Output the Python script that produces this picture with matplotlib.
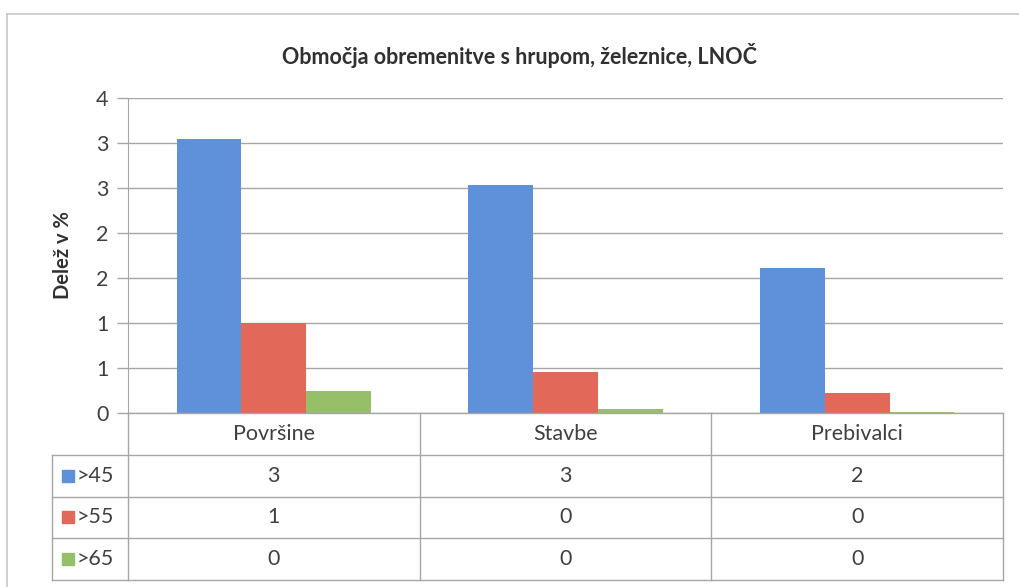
import numpy as np
import matplotlib
matplotlib.use('Agg')
import matplotlib.pyplot as plt
from matplotlib.lines import Line2D
from matplotlib.ticker import FuncFormatter

plt.rcParams['font.family'] = ['Lato', 'DejaVu Sans']

title = 'Območja obremenitve s hrupom, železnice, LNOČ'
ylabel = 'Delež v %'
categories = ['Površine', 'Stavbe', 'Prebivalci']
series = ['>45', '>55', '>65']
gt45 = [3.05, 2.53, 1.61]
gt55 = [1.00, 0.46, 0.22]
gt65 = [0.24, 0.05, 0.01]
colors = ['#5f90da', '#e2685a', '#97bf69']

W, H = 1020, 587
text_col = '#404040'
line_col = '#a6a6a6'


def excel_round(v):
    # Excel rounds halves up
    return '%d' % int(np.floor(v + 0.5))


def fx(px):
    return px / W


def fy(py):
    return 1 - py / H


fig = plt.figure(figsize=(W / 100, H / 100), dpi=100)

# outer chart border (left and top visible in the scan)
fig.add_artist(Line2D([fx(7), fx(7)], [fy(14), 0], color='#c8c8c8', lw=1.2))
fig.add_artist(Line2D([fx(7), 1], [fy(14), fy(14)], color='#c8c8c8', lw=1.2))

left, right, top, zero = 128, 1003, 98, 413
ax = fig.add_axes([fx(left), fy(zero), fx(right - left), (zero - top) / H])

values = [gt45, gt55, gt65]
x = np.arange(len(categories))
w = 1 / 4.5
for j in range(len(series)):
    ax.bar(x + (j - 1) * w, values[j], width=w, color=colors[j], zorder=3)

ax.set_xlim(-0.5, 2.5)
ax.set_ylim(0, 3.5)
ax.set_yticks(np.arange(0, 3.51, 0.5))
ax.yaxis.set_major_formatter(FuncFormatter(lambda v, p: excel_round(v)))
ax.set_xticks([])
ax.grid(axis='y', color=line_col, lw=1.0, zorder=0)
for s in ['top', 'right', 'bottom']:
    ax.spines[s].set_visible(False)
ax.spines['left'].set_color(line_col)
ax.tick_params(axis='y', colors=line_col, labelcolor=text_col, labelsize=15.5,
               length=8, width=1, pad=6)

fig.text(fx(520), fy(55), title, ha='center', va='center',
         fontsize=15.5, fontweight='bold', color='#303030')
fig.text(fx(63), fy(255), ylabel, ha='center', va='center', rotation=90,
         fontsize=14.5, fontweight='bold', color='#303030')

# data table under the chart
tb_left, tb_bottom = 52, 580
col_w = (right - left) / 3
tx0 = -0.5 - (left - tb_left) / col_w
tax = fig.add_axes([fx(tb_left), fy(tb_bottom), fx(right - tb_left), (tb_bottom - zero) / H])
tax.set_xlim(tx0, 2.5)
tax.set_ylim(4, 0)
tax.axis('off')

lk = dict(color=line_col, lw=1.0, clip_on=False)
tax.plot([-0.5, 2.5], [0, 0], **lk)
for r in [1, 2, 3, 4]:
    tax.plot([tx0, 2.5], [r, r], **lk)
tax.plot([tx0, tx0], [1, 4], **lk)
for c in [-0.5, 0.5, 1.5, 2.5]:
    tax.plot([c, c], [0, 4], **lk)

for i, cat in enumerate(categories):
    tax.text(i, 0.5, cat, ha='center', va='center', fontsize=15.5, color=text_col)
for j, name in enumerate(series):
    tax.plot(tx0 + 16 / col_w, j + 1.5, marker='s', ms=8, color=colors[j], clip_on=False)
    tax.text(tx0 + 25 / col_w, j + 1.5, name, ha='left', va='center', fontsize=15.5, color=text_col)
    for i in range(len(categories)):
        tax.text(i, j + 1.5, excel_round(values[j][i]), ha='center', va='center',
                 fontsize=15.5, color=text_col)

fig.savefig('out.png', dpi=100, facecolor='white')
